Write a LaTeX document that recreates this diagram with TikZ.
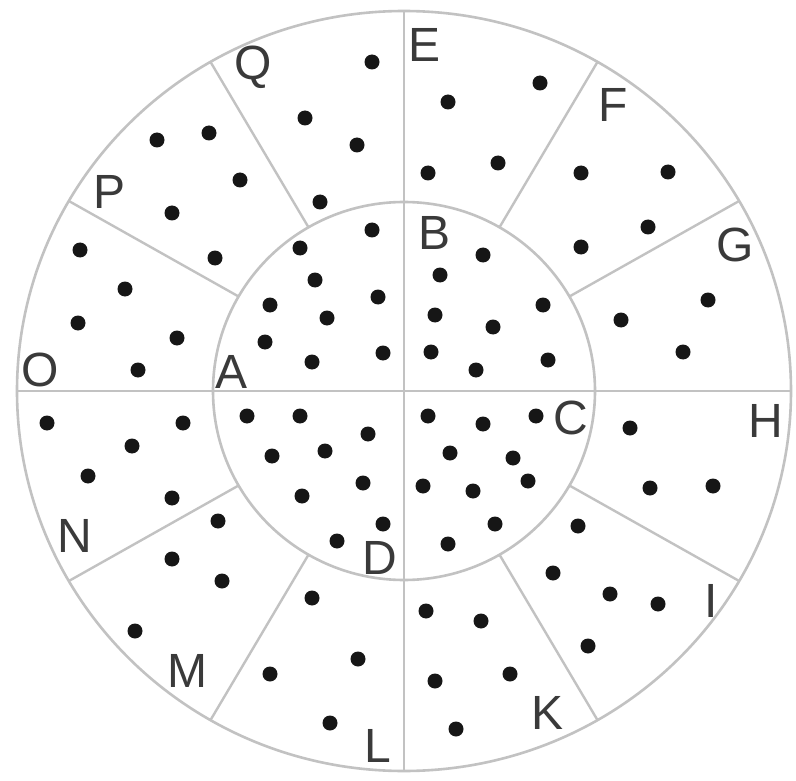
\documentclass[tikz,border=0pt]{standalone}
\usepackage{fontspec}
\setmainfont{Liberation Sans}
\usetikzlibrary{calc}
\definecolor{ringgray}{HTML}{C2C2C2}
\definecolor{seedink}{HTML}{161616}
\definecolor{labelink}{HTML}{3A3A3A}
\tikzset{
  ring/.style  ={draw=ringgray,line width=2.6pt},
  spoke/.style ={draw=ringgray,line width=2.4pt},
  seed/.style  ={fill=seedink},
  zonelabel/.style={font=\fontsize{48}{48}\selectfont,text=labelink,inner sep=0pt}
}

\begin{document}
\begin{tikzpicture}[x=1pt,y=-1pt]
  \path[fill=white,use as bounding box] (0,0) rectangle (796,781);
  \coordinate (hub) at (404,391);
  % rings
  \draw[ring] (hub) ellipse[x radius=387pt,y radius=380pt];
  \draw[ring] (hub) ellipse[x radius=191pt,y radius=189pt];
  % cross through both rings
  \draw[spoke] ($(hub)+(-387,0)$) -- ($(hub)+(387,0)$);
  \draw[spoke] ($(hub)+(0,-380)$) -- ($(hub)+(0,380)$);
  % outer sectors
  \foreach \a in {30,60,120,150,210,240,300,330}
    \draw[spoke] ($(hub)+({191*cos(\a)},{-189*sin(\a)})$) -- ($(hub)+({387*cos(\a)},{-380*sin(\a)})$);
  % seeds
  \foreach \x/\y in {372/62,305/118,357/145,157/140,209/133,240/180,320/202,172/213,
      372/230,80/250,215/258,300/248,125/289,315/280,378/297,78/323,270/305,327/318,
      177/338,265/342,383/353,138/370,312/362,
      540/83,448/102,428/173,498/163,581/173,668/172,648/227,581/247,483/255,440/275,
      708/300,543/305,435/315,493/327,621/320,431/352,548/360,476/370,683/352,
      47/423,183/423,132/446,88/476,172/498,247/416,300/416,368/434,272/456,325/451,
      363/483,302/496,383/524,337/541,218/521,172/559,222/581,135/631,312/598,358/659,
      270/674,330/723,
      428/416,483/424,536/416,630/428,450/453,513/458,423/486,473/491,528/481,650/488,
      713/486,495/524,448/544,578/526,553/573,610/594,658/604,588/646,426/611,481/621,
      435/681,510/674,456/729}
    \fill[seed] (\x,\y) circle[radius=7.5pt];
  % zone letters
  \foreach \zone/\x/\y in {A/232/372,B/435/233,C/571/418,D/380/558,E/425/45,F/613/105,
      G/735/245,H/766/421,I/711/601,K/548/713,L/378/746,M/187/671,N/75/536,O/40/370,
      P/110/192,Q/253/67}
    \node[zonelabel] (lbl\zone) at (\x,\y) {\zone};
\end{tikzpicture}
\end{document}
